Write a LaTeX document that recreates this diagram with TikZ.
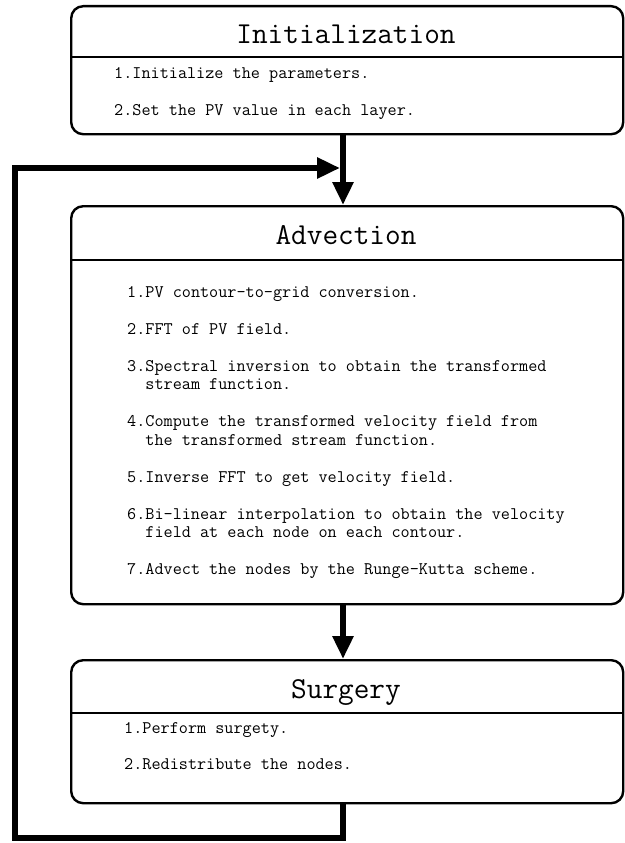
\documentclass[tikz,border=0pt]{standalone}
\usepackage{fontspec}
\usetikzlibrary{arrows.meta}
\begin{document}
\begin{tikzpicture}[x=1pt,y=-1pt,
  box/.style={draw,line width=2.4pt,rounded corners=12pt,anchor=north west,inner sep=0pt},
  divline/.style={line width=2pt},
  ttl/.style={anchor=base,font=\ttfamily\fontsize{30.4}{34}\selectfont,inner sep=0pt},
  itm/.style={anchor=base west,font=\ttfamily\fontsize{17.7}{20}\selectfont,inner sep=0pt},
  conn/.style={line width=6pt,line join=miter},
  tip/.style={-{Triangle[length=23pt,width=20pt]}}]
\useasboundingbox (0,0) rectangle (624,843);
\fill[white] (0,0) rectangle (624,843);
% boxes
\node[box,minimum width=552pt,minimum height=128pt] (init) at (70,5) {};
\node[box,minimum width=552pt,minimum height=398pt] (adv) at (70,205) {};
\node[box,minimum width=552pt,minimum height=143pt] (surg) at (70,659) {};
% dividers
\draw[divline] (init.west |- 0,57) -- (init.east |- 0,57);
\draw[divline] (adv.west |- 0,260) -- (adv.east |- 0,260);
\draw[divline] (surg.west |- 0,713) -- (surg.east |- 0,713);
% titles
\node[ttl] (tinit) at (346,44) {Initialization};
\node[ttl] (tadv) at (346,244) {Advection};
\node[ttl] (tsurg) at (346,698) {Surgery};
% init items
\node[itm] (i1) at (114,78) {1.Initialize the parameters.};
\node[itm] (i2) at (114,115) {2.Set the PV value in each layer.};
% advection items
\node[itm] (a1) at (127,297) {1.PV contour-to-grid conversion.};
\node[itm] (a2) at (127,334) {2.FFT of PV field.};
\node[itm] (a3) at (127,371) {3.Spectral inversion to obtain the transformed};
\node[itm] (a3b) at (127,389.5) {\ \ stream function.};
\node[itm] (a4) at (127,426.5) {4.Compute the transformed velocity field from};
\node[itm] (a4b) at (127,445) {\ \ the transformed stream function.};
\node[itm] (a5) at (127,482) {5.Inverse FFT to get velocity field.};
\node[itm] (a6) at (127,519) {6.Bi-linear interpolation to obtain the velocity};
\node[itm] (a6b) at (127,537.5) {\ \ field at each node on each contour.};
\node[itm] (a7) at (127,574.5) {7.Advect the nodes by the Runge-Kutta scheme.};
% surgery items
\node[itm] (s1) at (124,733) {1.Perform surgety.};
\node[itm] (s2) at (124,769) {2.Redistribute the nodes.};
% connectors
\coordinate (j) at (343,168);
\coordinate (c1) at (343,838);
\coordinate (c2) at (15,838);
\coordinate (c3) at (15,168);
\draw[conn,tip] (init.south -| j) -- (adv.north -| j);
\draw[conn,tip] (adv.south -| j) -- (surg.north -| j);
\draw[conn,tip,shorten >=3pt] (surg.south -| j) -- (c1) -- (c2) -- (c3) -- (j);
\end{tikzpicture}
\end{document}
